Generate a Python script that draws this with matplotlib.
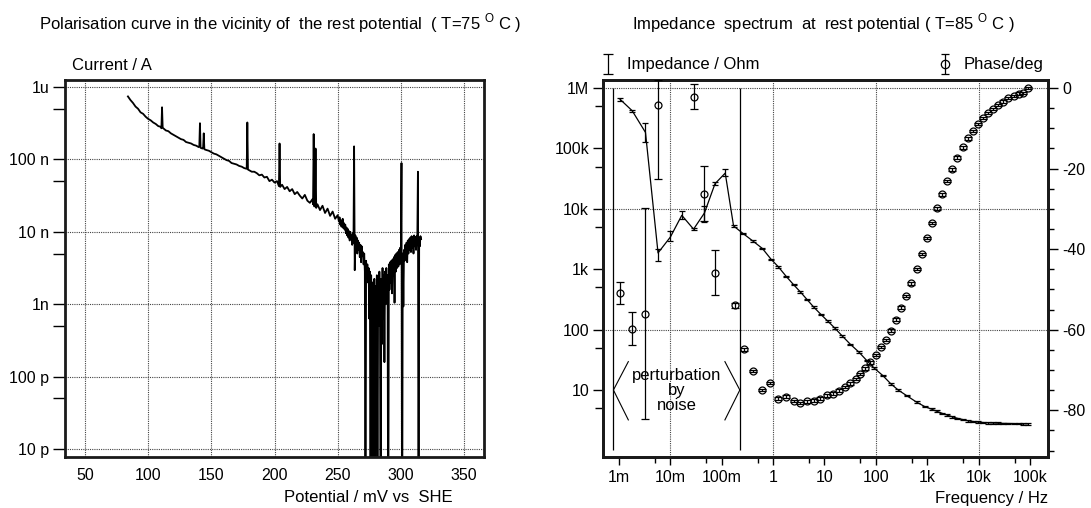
import matplotlib
matplotlib.use('Agg')
import matplotlib.pyplot as plt
from matplotlib.ticker import NullFormatter
from matplotlib.path import Path
from matplotlib.lines import Line2D
from matplotlib.legend_handler import HandlerTuple
import numpy as np

plt.rcParams['font.family'] = ['Liberation Sans', 'DejaVu Sans']
plt.rcParams['mathtext.fontset'] = 'custom'
plt.rcParams['mathtext.rm'] = 'Liberation Sans'
plt.rcParams['font.size'] = 11.5

# ---------------- left: polarisation curve ----------------
# potential / mV vs SHE, log10(current / A); -13 = current below the axis
pot_a = [84, 86, 88, 90, 92, 94, 96, 98, 100, 102,
         104, 106, 108, 110, 110.5, 111, 111.5, 112, 114, 116,
         118, 120, 122, 124, 126, 128, 130, 132, 134, 136,
         138, 140, 140.5, 141, 141.5, 143, 143.5, 144, 144.5, 146,
         148, 150, 152, 154, 156, 158, 160, 162, 164, 166,
         168, 170, 172, 174, 176, 178, 178.5, 179, 180, 182,
         184, 186, 188, 190, 192, 194, 196, 198, 200, 202,
         203.5, 204, 204.5, 206, 208, 210, 212, 214, 216, 218,
         220, 222, 224, 226, 228, 230, 230.5, 231, 231.5, 232,
         232.5, 233, 234, 236, 238, 240, 242, 244, 246, 248,
         250]
logi_a = [-6.13, -6.18, -6.22, -6.27, -6.30, -6.35, -6.37, -6.41, -6.44, -6.46,
          -6.49, -6.51, -6.54, -6.55, -6.57, -6.28, -6.56, -6.57, -6.60, -6.61,
          -6.64, -6.66, -6.68, -6.70, -6.72, -6.73, -6.76, -6.77, -6.78, -6.80,
          -6.81, -6.83, -6.82, -6.50, -6.84, -6.85, -6.84, -6.64, -6.86, -6.87,
          -6.88, -6.90, -6.92, -6.93, -6.95, -6.97, -6.99, -7.01, -7.02, -7.05,
          -7.06, -7.07, -7.09, -7.10, -7.12, -7.13, -6.49, -7.14, -7.15, -7.17,
          -7.17, -7.19, -7.22, -7.21, -7.25, -7.24, -7.30, -7.28, -7.32, -7.30,
          -7.37, -6.78, -7.38, -7.35, -7.41, -7.38, -7.44, -7.41, -7.48, -7.45,
          -7.50, -7.54, -7.49, -7.57, -7.60, -7.55, -7.62, -6.65, -7.65, -7.61,
          -6.85, -7.67, -7.62, -7.70, -7.64, -7.74, -7.68, -7.78, -7.72, -7.82,
          -7.77]
pot_b = [251, 251.5, 252, 252.5, 253, 253.5, 254, 254.5, 255, 255.5,
         256, 256.5, 257, 257.5, 258, 258.5, 259, 259.5, 260, 260.5,
         261, 261.5, 262, 262.5, 263, 263.5, 264, 264.5, 265, 265.5,
         266, 266.5, 267, 267.5, 268, 268.5, 269, 269.5, 270, 270.5,
         271, 271.5, 272, 272.5, 273, 273.5, 274, 274.5, 275, 275.5,
         276, 276.5, 277, 277.5, 278, 278.5, 279, 279.5, 280, 280.5,
         281, 281.5, 282, 282.5, 283, 283.5, 284, 284.5, 285, 285.5,
         286, 286.5, 287, 287.5, 288, 288.5, 289, 289.5, 290, 290.5,
         291, 291.5, 292, 292.5, 293, 293.5, 294, 294.5, 295, 295.5,
         296, 296.5, 297, 297.5, 298, 298.5, 299, 299.5, 300, 300.5,
         301, 301.5, 302, 302.5, 303, 303.5, 304, 304.5, 305, 305.5,
         306, 306.5, 307, 307.5, 308, 308.5, 309, 309.5, 310, 310.5,
         311, 311.5, 312, 312.5, 313, 313.5, 314, 314.5, 315, 315.5,
         316]
logi_b = [-7.86, -7.80, -7.90, -7.84, -7.93, -7.87, -7.82, -7.95, -7.88, -7.97,
          -7.90, -8.02, -7.94, -8.05, -7.96, -8.08, -7.99, -8.12, -8.00, -8.10,
          -8.05, -8.18, -8.02, -8.15, -6.82, -8.53, -8.05, -8.20, -8.08, -8.30,
          -8.12, -8.25, -8.15, -8.35, -8.18, -8.42, -8.20, -8.33, -8.28, -8.45,
          -8.30, -8.55, -13.0, -8.40, -8.62, -8.45, -8.70, -8.50, -9.20, -8.55,
          -13.0, -8.60, -13.0, -8.70, -9.40, -13.0, -8.65, -13.0, -8.75, -9.60,
          -8.60, -13.0, -8.70, -9.30, -8.55, -9.10, -13.0, -8.65, -9.55, -8.50,
          -9.20, -8.60, -9.80, -8.55, -9.00, -8.50, -8.95, -8.60, -13.0, -8.45,
          -8.80, -8.42, -8.70, -8.40, -8.85, -8.38, -8.60, -8.35, -8.98, -8.32,
          -8.55, -8.30, -8.50, -8.28, -8.48, -8.25, -8.45, -8.22, -8.40, -7.05,
          -13.0, -8.30, -9.03, -8.25, -8.40, -8.18, -8.35, -8.15, -8.42, -8.12,
          -8.30, -8.10, -8.25, -8.08, -8.28, -8.06, -8.22, -8.08, -8.30, -8.05,
          -8.20, -8.07, -8.25, -8.06, -8.15, -7.17, -13.0, -8.08, -8.20, -8.06,
          -8.10]

pot_ticks = [50, 100, 150, 200, 250, 300, 350]
cur_ticks = [1e-11, 1e-10, 1e-9, 1e-8, 1e-7, 1e-6]
cur_labels = ['10 p', '100 p', '1n', '10 n', '100 n', '1u']
cur_minor = [5e-11, 5e-10, 5e-9, 5e-8, 5e-7]

# ---------------- right: impedance spectrum ----------------
imp_freq = [1.05e-3, 1.81e-3, 3.28e-3, 5.76e-3, 1.0e-2, 1.67e-2, 2.83e-2, 4.6e-2, 7.4e-2, 0.117,
            0.17, 0.26, 0.41, 0.62, 0.92, 1.26, 1.8, 2.5, 3.4, 4.6,
            6.2, 8.6, 11.6, 15.7, 22, 32, 46, 66, 93, 135,
            195, 272, 395, 620, 900, 1230, 1530, 1970, 2430, 3080,
            3870, 4860, 6150, 7600, 9700, 1.2e4, 1.52e4, 1.9e4, 2.4e4, 3.0e4,
            3.8e4, 4.8e4, 6.0e4, 7.3e4, 9.2e4]
imp_ohm = [6.5e5, 4.2e5, 1.84e5, 1.86e3, 3.4e3, 7.8e3, 4.6e3, 8.5e3, 2.6e4, 3.9e4,
           5.2e3, 3.9e3, 2.9e3, 2.2e3, 1450, 1100, 760, 555, 420, 313,
           235, 177, 138, 107, 79, 57, 43, 31, 23, 17.5,
           12.7, 10.0, 8.1, 6.3, 5.3, 4.8, 4.45, 4.1, 3.85, 3.6,
           3.4, 3.25, 3.1, 3.02, 2.95, 2.9, 2.87, 2.84, 2.82, 2.8,
           2.79, 2.78, 2.77, 2.76, 2.75]
# error bar extent below / above the value, in percent
imp_err_lo = [4.6, 4.8, 30, 26, 13, 13, 4, 29, 6, 10,
              3, 3, 3, 3, 3, 3, 3, 3, 3, 3,
              3, 3, 3, 3, 3, 3, 3, 3, 3, 3,
              3, 3, 3, 3, 3, 3, 3, 3, 3, 3,
              3, 3, 3, 3, 3, 3, 3, 3, 3, 3,
              3, 3, 3, 3, 3]
imp_err_hi = [4.6, 4.8, 41, 18, 26, 17, 4, 29, 6, 15,
              3, 3, 3, 3, 3, 3, 3, 3, 3, 3,
              3, 3, 3, 3, 3, 3, 3, 3, 3, 3,
              3, 3, 3, 3, 3, 3, 3, 3, 3, 3,
              3, 3, 3, 3, 3, 3, 3, 3, 3, 3,
              3, 3, 3, 3, 3]

ph_freq = [1.05e-3, 1.81e-3, 3.28e-3, 5.76e-3, 2.83e-2, 4.6e-2, 7.4e-2, 0.18, 0.27, 0.41,
           0.6, 0.86, 1.24, 1.77, 2.5, 3.4, 4.6, 6.2, 8.3, 11.2,
           14.6, 18.8, 24.6, 31.6, 40.5, 50, 62, 78, 100, 125,
           158, 197, 243, 305, 381, 490, 620, 775, 980, 1230,
           1530, 1970, 2430, 3080, 3870, 4860, 6150, 7600, 9700, 1.2e4,
           1.52e4, 1.9e4, 2.4e4, 3.0e4, 3.8e4, 4.8e4, 6.0e4, 7.3e4, 9.2e4]
ph_deg = [-51.0, -59.75, -56.0, -4.2, -2.25, -26.4, -46.0, -53.9, -64.9, -70.3,
          -74.9, -73.3, -77.1, -76.6, -77.7, -78.2, -77.8, -77.6, -77.1, -76.3,
          -75.85, -75.1, -74.2, -73.35, -72.25, -71.0, -69.6, -68.1, -66.25, -64.35,
          -62.5, -60.2, -57.5, -54.5, -51.6, -48.5, -45.0, -41.2, -37.25, -33.5,
          -29.9, -26.4, -23.1, -20.2, -17.25, -14.75, -12.5, -10.6, -8.9, -7.5,
          -6.2, -5.2, -4.2, -3.35, -2.5, -2.0, -1.4, -1.25, 0.0]
ph_err_lo = [2.7, 3.95, 26.25, 18.5, 3.05, 6.7, 5.4, 0.6, 0.3, 0.3,
             0.3, 0.3, 0.3, 0.3, 0.3, 0.3, 0.3, 0.3, 0.3, 0.3,
             0.3, 0.3, 0.3, 0.3, 0.3, 0.3, 0.3, 0.3, 0.3, 0.3,
             0.3, 0.3, 0.3, 0.3, 0.3, 0.3, 0.3, 0.3, 0.3, 0.3,
             0.3, 0.3, 0.3, 0.3, 0.3, 0.3, 0.3, 0.3, 0.3, 0.3,
             0.3, 0.3, 0.3, 0.3, 0.3, 0.3, 0.3, 0.3, 0.3]
ph_err_hi = [2.75, 4.15, 26.25, 6.1, 3.15, 7.1, 5.8, 0.6, 0.3, 0.3,
             0.3, 0.3, 0.3, 0.3, 0.3, 0.3, 0.3, 0.3, 0.3, 0.3,
             0.3, 0.3, 0.3, 0.3, 0.3, 0.3, 0.3, 0.3, 0.3, 0.3,
             0.3, 0.3, 0.3, 0.3, 0.3, 0.3, 0.3, 0.3, 0.3, 0.3,
             0.3, 0.3, 0.3, 0.3, 0.3, 0.3, 0.3, 0.3, 0.3, 0.3,
             0.3, 0.3, 0.3, 0.3, 0.3, 0.3, 0.3, 0.3, 0.3]

noise_band = [7.8e-4, 0.225]   # frequencies of the two solid lines

freq_ticks = [1e-3, 1e-2, 1e-1, 1, 10, 100, 1e3, 1e4, 1e5]
freq_labels = ['1m', '10m', '100m', '1', '10', '100', '1k', '10k', '100k']
freq_minor = [5e-3, 5e-2, 5e-1, 5, 50, 500, 5e3, 5e4]
freq_grid = [1e-2, 1, 100, 1e4]
z_ticks = [10, 100, 1e3, 1e4, 1e5, 1e6]
z_labels = ['10', '100', '1k', '10k', '100k', '1M']
z_minor = [5, 50, 500, 5e3, 5e4, 5e5]
z_grid = [1e6, 1e4, 100]
ph_ticks = [0, -20, -40, -60, -80]
ph_minor = [-5, -10, -15, -25, -30, -35, -45, -50, -55, -65, -70, -75, -85, -90]


W, H = 1091.0, 508.0
fig = plt.figure(figsize=(W / 100, H / 100), dpi=100)


def box(x0, y0, x1, y1):
    return [x0 / W, 1 - y1 / H, (x1 - x0) / W, (y1 - y0) / H]


def fxy(px, py):
    return px / W, 1 - py / H


def frame(ax):
    for sp in ax.spines.values():
        sp.set_linewidth(2.0)
        sp.set_color('#1a1a1a')


grid_kw = dict(color='#444444', lw=0.8, ls=(0, (1, 1)), zorder=0.5)

# ---- left panel
ax1 = fig.add_axes(box(65, 80, 484, 457))
ax1.plot(pot_a + pot_b, 10.0 ** np.array(logi_a + logi_b), color='k', lw=1.3)
ax1.set_yscale('log')
ax1.set_xlim(34.2, 365.8)
ax1.set_ylim(7.75e-12, 1.25e-6)
ax1.set_xticks(pot_ticks)
ax1.set_xticklabels([str(v) for v in pot_ticks])
ax1.set_yticks(cur_ticks)
ax1.set_yticklabels(cur_labels)
ax1.set_yticks(cur_minor, minor=True)
ax1.yaxis.set_minor_formatter(NullFormatter())
ax1.tick_params(axis='x', length=0, pad=8)
ax1.tick_params(axis='y', which='both', length=8.5, width=1, pad=3)
for v in pot_ticks:
    ax1.axvline(v, **grid_kw)
for v in cur_ticks:
    ax1.axhline(v, **grid_kw)
frame(ax1)

# ---- right panel
ax2 = fig.add_axes(box(603, 80, 1048, 457))
ax2.set_xscale('log')
ax2.set_yscale('log')
ax2.set_xlim(4.89e-4, 2.24e5)
ax2.set_ylim(0.778, 1.356e6)

z_lo = [z * p / 100 for z, p in zip(imp_ohm, imp_err_lo)]
z_hi = [z * p / 100 for z, p in zip(imp_ohm, imp_err_hi)]
ax2.errorbar(imp_freq, imp_ohm, yerr=[z_lo, z_hi], color='k', lw=0.9,
             elinewidth=0.9, capsize=2.0, capthick=0.9, zorder=3)

for f in freq_grid:
    ax2.axvline(f, **grid_kw)
for z in z_grid:
    ax2.axhline(z, **grid_kw)
ax2.vlines(noise_band, 1, 1e6, color='k', lw=0.9, zorder=2)

# angle brackets round the noisy range
f_lo, f_hi = noise_band
ax2.plot([f_lo * 1.95, f_lo, f_lo * 1.95], [29.5, 10, 3.2], color='k', lw=0.8)
ax2.plot([f_hi / 1.95, f_hi, f_hi / 1.95], [29.5, 10, 3.2], color='k', lw=0.8)
ax2.text(np.sqrt(f_lo * f_hi), 10, 'perturbation\nby\nnoise', ha='center',
         va='center', linespacing=1.0, fontsize=12)

ax2.set_xticks(freq_ticks)
ax2.set_xticklabels(freq_labels)
ax2.set_xticks(freq_minor, minor=True)
ax2.xaxis.set_minor_formatter(NullFormatter())
ax2.set_yticks(z_ticks)
ax2.set_yticklabels(z_labels)
ax2.set_yticks(z_minor, minor=True)
ax2.yaxis.set_minor_formatter(NullFormatter())
ax2.tick_params(axis='x', which='major', length=6, width=1, pad=3)
ax2.tick_params(axis='x', which='minor', length=4, width=1)
ax2.tick_params(axis='y', which='major', length=7, width=1, pad=3)
ax2.tick_params(axis='y', which='minor', length=5.5, width=1)
frame(ax2)

ax3 = ax2.twinx()
ax3.set_ylim(-91.6, 1.99)
ax3.errorbar(ph_freq, ph_deg, yerr=[ph_err_lo, ph_err_hi], fmt='o', ms=5,
             mfc='none', mec='k', mew=0.9, ecolor='k', elinewidth=0.9,
             capsize=2.7, capthick=0.9, zorder=4)
ax3.set_yticks(ph_ticks)
ax3.set_yticklabels([str(v) for v in ph_ticks])
ax3.set_yticks(ph_minor, minor=True)
ax3.tick_params(axis='y', which='major', length=7, width=1, pad=3)
ax3.tick_params(axis='y', which='minor', length=4.5, width=1)
frame(ax3)

# legend keys: error bar glyph (I-beam), and I-beam through an open circle
ibeam = Path([(-0.45, 1), (0.45, 1), (0, 1), (0, -1), (-0.45, -1), (0.45, -1)],
             [Path.MOVETO, Path.LINETO, Path.MOVETO, Path.LINETO, Path.MOVETO, Path.LINETO])
imp_key = Line2D([], [], ls='none', marker=ibeam, ms=15, mfc='none', mec='k', mew=0.9)
ph_bar = Line2D([], [], ls='none', marker=ibeam, ms=14, mfc='none', mec='k', mew=0.9)
ph_dot = Line2D([], [], ls='none', marker='o', ms=6, mfc='none', mec='k', mew=0.9)
leg_kw = dict(loc='center left', bbox_transform=fig.transFigure, frameon=False,
              borderpad=0, borderaxespad=0, handlelength=1.0, handletextpad=0.6,
              fontsize=12, handler_map={tuple: HandlerTuple(ndivide=1)})
leg1 = ax3.legend([imp_key], ['Impedance / Ohm'], bbox_to_anchor=fxy(600, 65), **leg_kw)
ax3.add_artist(leg1)
ax3.legend([(ph_bar, ph_dot)], ['Phase/deg'], bbox_to_anchor=fxy(937, 65), **leg_kw)

# titles and axis names
fig.text(*fxy(39, 23), 'Polarisation curve in the vicinity of  the rest potential  ( T=75 $^{\\mathrm{O}}$ C )',
         ha='left', va='center', fontsize=12)
fig.text(*fxy(632, 23), 'Impedance  spectrum  at  rest potential ( T=85 $^{\\mathrm{O}}$ C )',
         ha='left', va='center', fontsize=12)
fig.text(*fxy(72, 66), 'Current / A', ha='left', va='center', fontsize=12)
fig.text(*fxy(453, 498), 'Potential / mV vs  SHE', ha='right', va='center', fontsize=12)
fig.text(*fxy(1048, 498), 'Frequency / Hz', ha='right', va='center', fontsize=12)

fig.savefig('out.png', dpi=100)
